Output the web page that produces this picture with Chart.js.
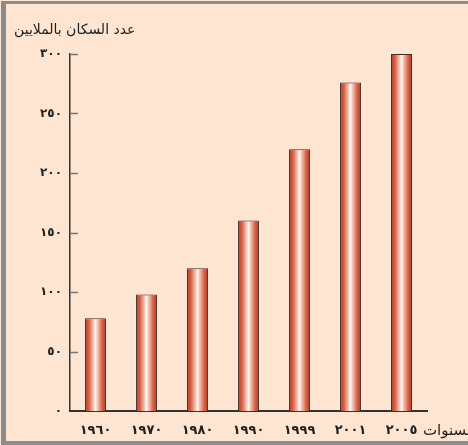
<!DOCTYPE html>
<html>
<head>
<meta charset="utf-8">
<script src="https://cdn.jsdelivr.net/npm/chart.js@4"></script>
<style>
  html, body { margin: 0; padding: 0; background: #fde5d1; overflow: hidden; width: 468px; height: 445px; }
  #frame {
    position: absolute; left: 1px; top: 1px; width: 462px; height: 437px;
    background: #fde5d1;
    border-left: 5px solid #8c8c8c; border-top: 3px solid #8c8c8c; border-bottom: 4px solid #8c8c8c;
  }
  #wrap { position: absolute; left: 0; top: 0; width: 468px; height: 445px; overflow: hidden; }
</style>
</head>
<body>
<div id="frame"></div>
<div id="wrap"><canvas id="popChart" width="468" height="445"></canvas></div>
<script>
var years = ['١٩٦٠', '١٩٧٠', '١٩٨٠', '١٩٩٠', '١٩٩٩', '٢٠٠١', '٢٠٠٥'];
var population = [78, 98, 120, 160, 220, 276, 300];
var yTickLabels = ['٠', '٥٠', '١٠٠', '١٥٠', '٢٠٠', '٢٥٠', '٣٠٠'];
var yTitle = 'عدد السكان بالملايين';
var xTitle = 'السنوات';

var arabicFont = "'DejaVu Sans', sans-serif";

function barGradient(ctx) {
    var chart = ctx.chart;
    var xs = chart.scales.x;
    if (!xs || !chart.chartArea) return '#d0654a';
    var cx = xs.getPixelForValue(ctx.dataIndex);
    var g = chart.ctx.createLinearGradient(cx - 10.5, 0, cx + 10.5, 0);
    g.addColorStop(0, '#b4321c');
    g.addColorStop(0.2, '#d8674c');
    g.addColorStop(0.5, '#fff3ec');
    g.addColorStop(0.8, '#d8684e');
    g.addColorStop(1, '#b3301a');
    return g;
}

var extras = {
    id: 'extras',
    afterDraw: function (chart) {
        var c = chart.ctx;
        var ys = chart.scales.y;
        var left = chart.chartArea.left;
        c.save();
        // inward tick marks on the value axis
        c.strokeStyle = '#777';
        c.lineWidth = 1.5;
        ys.ticks.forEach(function (t) {
            if (t.value === 0) return;
            var y = Math.round(ys.getPixelForValue(t.value)) + 0.5;
            c.beginPath();
            c.moveTo(left, y);
            c.lineTo(left + 8, y);
            c.stroke();
        });
        c.fillStyle = '#222';
        c.textBaseline = 'middle';
        c.textAlign = 'left';
        c.font = '14px ' + arabicFont;
        c.fillText(yTitle, 14, 30);
        c.font = '15px ' + arabicFont;
        c.fillText(xTitle, 423, 431);
        c.restore();
    }
};

document.addEventListener('DOMContentLoaded', function () {
    var ctx = document.getElementById('popChart').getContext('2d');
    new Chart(ctx, {
        type: 'bar',
        data: {
            labels: years,
            datasets: [{
                data: population,
                backgroundColor: barGradient,
                borderColor: '#3e2a26',
                borderWidth: 1,
                categoryPercentage: 1.0,
                barPercentage: 0.41
            }]
        },
        options: {
            responsive: false,
            animation: false,
            layout: { padding: { top: 54, right: 41, left: 0, bottom: 0 } },
            plugins: { legend: { display: false }, tooltip: { enabled: false } },
            scales: {
                x: {
                    afterFit: function (s) { s.height = 34; },
                    grid: { display: false, drawTicks: false },
                    border: { display: true, color: '#333', width: 2 },
                    ticks: {
                        padding: 12,
                        color: '#222',
                        font: { family: arabicFont, size: 13, weight: 'bold' }
                    }
                },
                y: {
                    min: 0,
                    max: 300,
                    afterFit: function (s) { s.width = 70; },
                    grid: { display: false, drawTicks: false },
                    border: { display: true, color: '#333', width: 1.5 },
                    ticks: {
                        stepSize: 50,
                        padding: 8,
                        color: '#222',
                        font: { family: arabicFont, size: 12, weight: 'bold' },
                        callback: function (v, i) { return yTickLabels[i]; }
                    }
                }
            }
        },
        plugins: [extras]
    });
});
</script>
</body>
</html>
